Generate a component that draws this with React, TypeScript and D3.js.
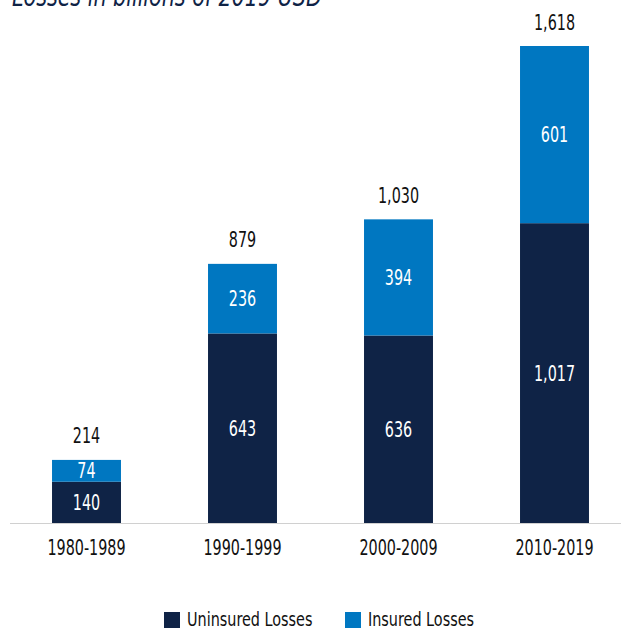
import React from "react";
import * as d3 from "d3";

const categories = ["1980-1989", "1990-1999", "2000-2009", "2010-2019"];
const uninsured = [140, 643, 636, 1017];
const insured = [74, 236, 394, 601];
const totals = [214, 879, 1030, 1618];
const legendLabels = ["Uninsured Losses", "Insured Losses"];
const title = "Losses in billions of 2019 USD";

const W = 621;
const H = 629;
const DARK = "#0f2346";
const BLUE = "#0077c1";
const FONT = "'DejaVu Sans Condensed', 'Liberation Sans Narrow', sans-serif";
const SX = 0.76;

function T({ x, y, children, anchor = "middle", size = 21, fill = "#111", sx = SX }: any) {
  return (
    <text
      transform={`translate(${x},${y}) scale(${sx},1)`}
      dy="0.36em"
      textAnchor={anchor}
      fontSize={size}
      fill={fill}
    >
      {children}
    </text>
  );
}

export default function App() {
  const x = d3.scaleBand<string>().domain(categories).range([8.5, 632.5]).paddingInner(0.558).paddingOuter(0.279);
  const y = d3.scaleLinear().domain([0, 1618]).range([523, 46]);
  const fmt = d3.format(",");
  const bw = x.bandwidth();

  return (
    <svg width={W} height={H} style={{ position: "absolute", left: 0, top: 0, background: "#fff" }} fontFamily={FONT}>
      <text transform={`translate(12,6) scale(0.82,1)`} fontSize={28} fontStyle="italic" fill={DARK}>{title}</text>
      <line x1={10} x2={W} y1={523.5} y2={523.5} stroke="#d0d0d0" strokeWidth={1.2} />
      {categories.map((c, i) => {
        const x0 = x(c)!;
        const cx = x0 + bw / 2;
        const yU = y(uninsured[i]);
        const yT = y(uninsured[i] + insured[i]);
        const yTotal = y(totals[i]);
        return (
          <g key={c}>
            <rect x={x0} y={yU} width={bw} height={y(0) - yU} fill={DARK} />
            <rect x={x0} y={yT} width={bw} height={yU - yT} fill={BLUE} />
            <T x={cx} y={(yU + y(0)) / 2} fill="#fff">{fmt(uninsured[i])}</T>
            <T x={cx} y={(yT + yU) / 2} fill="#fff">{fmt(insured[i])}</T>
            <T x={cx} y={yTotal - 24}>{fmt(totals[i])}</T>
            <T x={cx} y={547}>{c}</T>
          </g>
        );
      })}
      {legendLabels.map((l, i) => {
        const lx = [164, 345][i];
        return (
          <g key={l}>
            <rect x={lx} y={612} width={16} height={16} fill={[DARK, BLUE][i]} />
            <T x={lx + 23} y={618.5} anchor="start" size={20} sx={0.8}>{l}</T>
          </g>
        );
      })}
    </svg>
  );
}
